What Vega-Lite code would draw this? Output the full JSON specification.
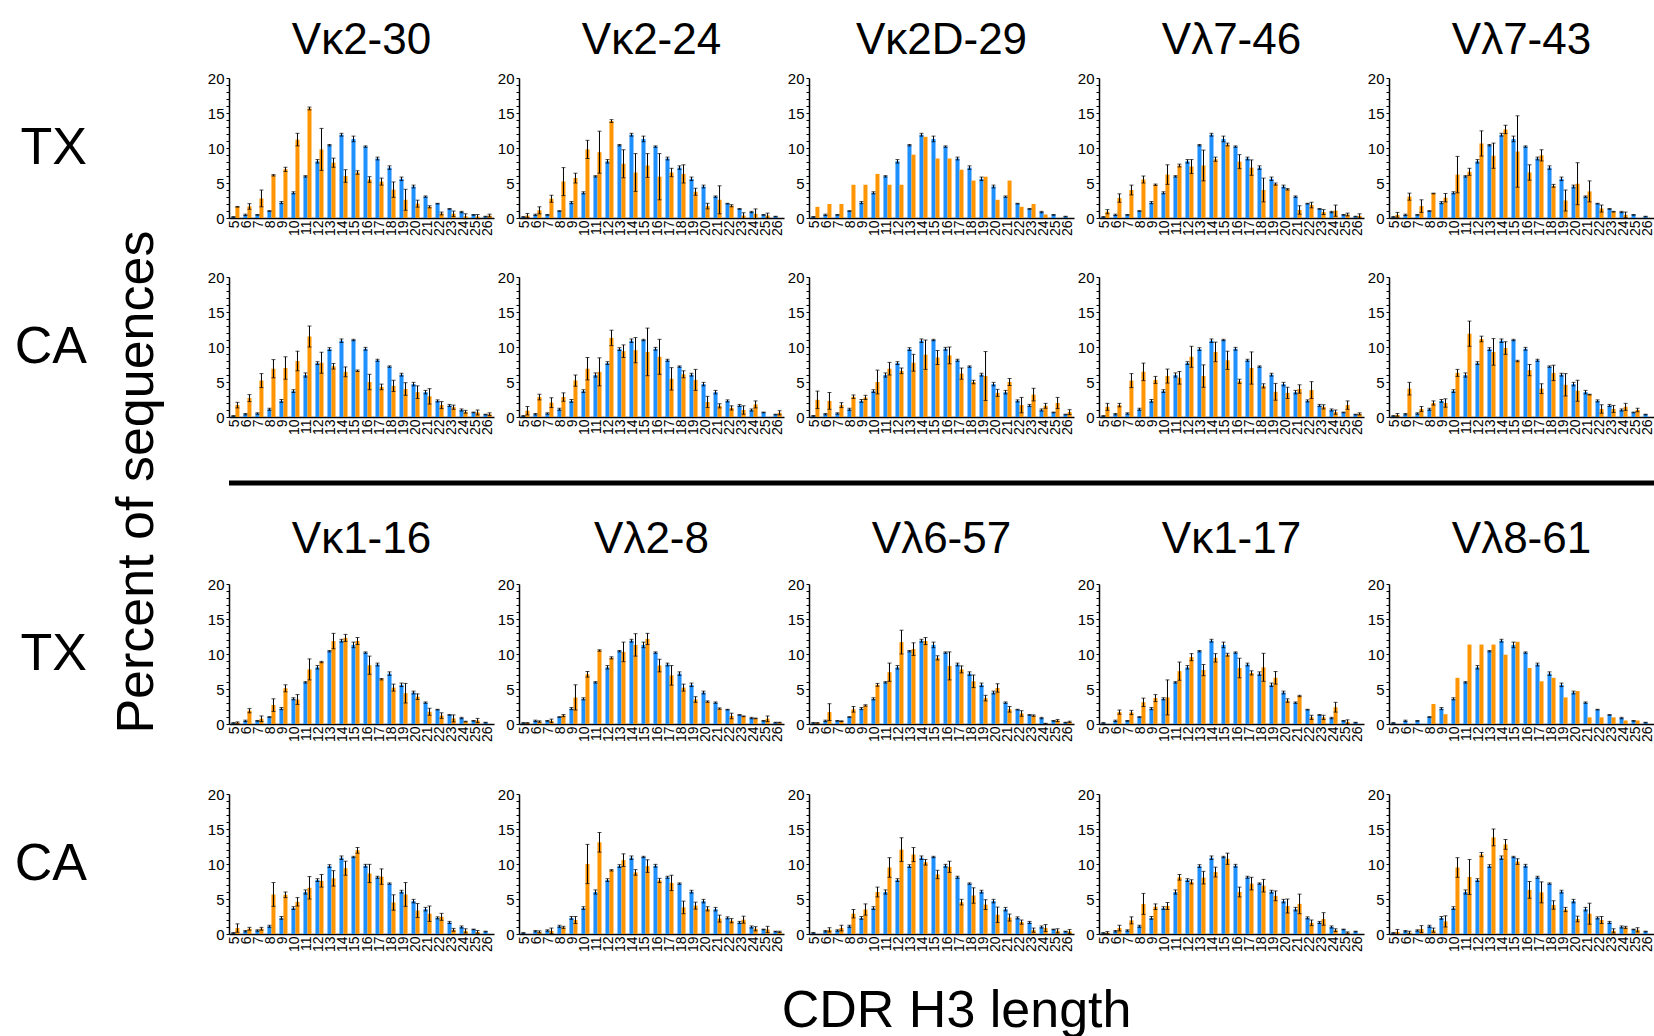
{
"$schema":"https://vega.github.io/schema/vega-lite/v6.json",
"padding":{"left":14,"top":19,"right":0,"bottom":0},
"background":"white",
"config":{"font":"Liberation Sans","view":{"stroke":null},
 "header":{"labelFont":"Liberation Sans","labelColor":"black"},
 "axis":{"labelFont":"Liberation Sans","labelColor":"black","domainColor":"black","tickColor":"black","grid":false,"title":null}},
"datasets":{"d":[
{"g":"Vκ2-30","c":"TX","s":"b","x":5,"v":0.15,"e":0.05},{"g":"Vκ2-30","c":"TX","s":"b","x":6,"v":0.45,"e":0.1},{"g":"Vκ2-30","c":"TX","s":"b","x":7,"v":0.45,"e":0.05},{"g":"Vκ2-30","c":"TX","s":"b","x":8,"v":1.0,"e":0.05},{"g":"Vκ2-30","c":"TX","s":"b","x":9,"v":2.2,"e":0.15},{"g":"Vκ2-30","c":"TX","s":"b","x":10,"v":3.6,"e":0.15},{"g":"Vκ2-30","c":"TX","s":"b","x":11,"v":5.95,"e":0.1},{"g":"Vκ2-30","c":"TX","s":"b","x":12,"v":8.1,"e":0.25},{"g":"Vκ2-30","c":"TX","s":"b","x":13,"v":10.4,"e":0.1},{"g":"Vκ2-30","c":"TX","s":"b","x":14,"v":11.9,"e":0.2},{"g":"Vκ2-30","c":"TX","s":"b","x":15,"v":11.3,"e":0.4},{"g":"Vκ2-30","c":"TX","s":"b","x":16,"v":10.2,"e":0.1},{"g":"Vκ2-30","c":"TX","s":"b","x":17,"v":8.5,"e":0.2},{"g":"Vκ2-30","c":"TX","s":"b","x":18,"v":7.2,"e":0.25},{"g":"Vκ2-30","c":"TX","s":"b","x":19,"v":5.6,"e":0.25},{"g":"Vκ2-30","c":"TX","s":"b","x":20,"v":4.5,"e":0.2},{"g":"Vκ2-30","c":"TX","s":"b","x":21,"v":3.05,"e":0.1},{"g":"Vκ2-30","c":"TX","s":"b","x":22,"v":2.05,"e":0.05},{"g":"Vκ2-30","c":"TX","s":"b","x":23,"v":1.3,"e":0.05},{"g":"Vκ2-30","c":"TX","s":"b","x":24,"v":0.85,"e":0.1},{"g":"Vκ2-30","c":"TX","s":"b","x":25,"v":0.45,"e":0.05},{"g":"Vκ2-30","c":"TX","s":"b","x":26,"v":0.2,"e":0.05},
{"g":"Vκ2-30","c":"TX","s":"o","x":5,"v":1.6,"e":0.05},{"g":"Vκ2-30","c":"TX","s":"o","x":6,"v":1.65,"e":0.4},{"g":"Vκ2-30","c":"TX","s":"o","x":7,"v":2.8,"e":1.2},{"g":"Vκ2-30","c":"TX","s":"o","x":8,"v":6.1,"e":0.1},{"g":"Vκ2-30","c":"TX","s":"o","x":9,"v":6.95,"e":0.3},{"g":"Vκ2-30","c":"TX","s":"o","x":10,"v":11.2,"e":0.9},{"g":"Vκ2-30","c":"TX","s":"o","x":11,"v":15.65,"e":0.2},{"g":"Vκ2-30","c":"TX","s":"o","x":12,"v":9.8,"e":3.0},{"g":"Vκ2-30","c":"TX","s":"o","x":13,"v":7.9,"e":0.65},{"g":"Vκ2-30","c":"TX","s":"o","x":14,"v":6.0,"e":0.9},{"g":"Vκ2-30","c":"TX","s":"o","x":15,"v":6.5,"e":0.25},{"g":"Vκ2-30","c":"TX","s":"o","x":16,"v":5.5,"e":0.4},{"g":"Vκ2-30","c":"TX","s":"o","x":17,"v":5.2,"e":0.5},{"g":"Vκ2-30","c":"TX","s":"o","x":18,"v":4.05,"e":1.1},{"g":"Vκ2-30","c":"TX","s":"o","x":19,"v":2.6,"e":1.5},{"g":"Vκ2-30","c":"TX","s":"o","x":20,"v":2.05,"e":0.5},{"g":"Vκ2-30","c":"TX","s":"o","x":21,"v":1.6,"e":0.15},{"g":"Vκ2-30","c":"TX","s":"o","x":22,"v":0.65,"e":0.2},{"g":"Vκ2-30","c":"TX","s":"o","x":23,"v":0.6,"e":0.4},{"g":"Vκ2-30","c":"TX","s":"o","x":24,"v":0.25,"e":0.35},{"g":"Vκ2-30","c":"TX","s":"o","x":25,"v":0.2,"e":0.3},{"g":"Vκ2-30","c":"TX","s":"o","x":26,"v":0.35,"e":0.2},
{"g":"Vκ2-24","c":"TX","s":"b","x":5,"v":0.15,"e":0.05},{"g":"Vκ2-24","c":"TX","s":"b","x":6,"v":0.45,"e":0.1},{"g":"Vκ2-24","c":"TX","s":"b","x":7,"v":0.45,"e":0.05},{"g":"Vκ2-24","c":"TX","s":"b","x":8,"v":1.0,"e":0.05},{"g":"Vκ2-24","c":"TX","s":"b","x":9,"v":2.2,"e":0.15},{"g":"Vκ2-24","c":"TX","s":"b","x":10,"v":3.6,"e":0.15},{"g":"Vκ2-24","c":"TX","s":"b","x":11,"v":5.95,"e":0.1},{"g":"Vκ2-24","c":"TX","s":"b","x":12,"v":8.1,"e":0.25},{"g":"Vκ2-24","c":"TX","s":"b","x":13,"v":10.4,"e":0.1},{"g":"Vκ2-24","c":"TX","s":"b","x":14,"v":11.9,"e":0.2},{"g":"Vκ2-24","c":"TX","s":"b","x":15,"v":11.3,"e":0.4},{"g":"Vκ2-24","c":"TX","s":"b","x":16,"v":10.2,"e":0.1},{"g":"Vκ2-24","c":"TX","s":"b","x":17,"v":8.5,"e":0.2},{"g":"Vκ2-24","c":"TX","s":"b","x":18,"v":7.2,"e":0.25},{"g":"Vκ2-24","c":"TX","s":"b","x":19,"v":5.6,"e":0.25},{"g":"Vκ2-24","c":"TX","s":"b","x":20,"v":4.5,"e":0.2},{"g":"Vκ2-24","c":"TX","s":"b","x":21,"v":3.05,"e":0.1},{"g":"Vκ2-24","c":"TX","s":"b","x":22,"v":2.05,"e":0.05},{"g":"Vκ2-24","c":"TX","s":"b","x":23,"v":1.3,"e":0.05},{"g":"Vκ2-24","c":"TX","s":"b","x":24,"v":0.85,"e":0.1},{"g":"Vκ2-24","c":"TX","s":"b","x":25,"v":0.45,"e":0.05},{"g":"Vκ2-24","c":"TX","s":"b","x":26,"v":0.2,"e":0.05},
{"g":"Vκ2-24","c":"TX","s":"o","x":5,"v":0.35,"e":0.3},{"g":"Vκ2-24","c":"TX","s":"o","x":6,"v":1.1,"e":0.5},{"g":"Vκ2-24","c":"TX","s":"o","x":7,"v":2.75,"e":0.5},{"g":"Vκ2-24","c":"TX","s":"o","x":8,"v":5.2,"e":2.0},{"g":"Vκ2-24","c":"TX","s":"o","x":9,"v":5.7,"e":0.7},{"g":"Vκ2-24","c":"TX","s":"o","x":10,"v":9.8,"e":1.3},{"g":"Vκ2-24","c":"TX","s":"o","x":11,"v":9.4,"e":3.0},{"g":"Vκ2-24","c":"TX","s":"o","x":12,"v":13.85,"e":0.2},{"g":"Vκ2-24","c":"TX","s":"o","x":13,"v":7.75,"e":2.0},{"g":"Vκ2-24","c":"TX","s":"o","x":14,"v":6.5,"e":2.7},{"g":"Vκ2-24","c":"TX","s":"o","x":15,"v":7.5,"e":1.7},{"g":"Vκ2-24","c":"TX","s":"o","x":16,"v":5.9,"e":3.3},{"g":"Vκ2-24","c":"TX","s":"o","x":17,"v":6.5,"e":0.6},{"g":"Vκ2-24","c":"TX","s":"o","x":18,"v":6.3,"e":1.3},{"g":"Vκ2-24","c":"TX","s":"o","x":19,"v":3.75,"e":0.5},{"g":"Vκ2-24","c":"TX","s":"o","x":20,"v":1.7,"e":0.4},{"g":"Vκ2-24","c":"TX","s":"o","x":21,"v":2.6,"e":2.0},{"g":"Vκ2-24","c":"TX","s":"o","x":22,"v":1.75,"e":0.15},{"g":"Vκ2-24","c":"TX","s":"o","x":23,"v":0.35,"e":0.4},{"g":"Vκ2-24","c":"TX","s":"o","x":24,"v":0.6,"e":0.7},{"g":"Vκ2-24","c":"TX","s":"o","x":25,"v":0.35,"e":0.35},
{"g":"Vκ2D-29","c":"TX","s":"b","x":5,"v":0.15,"e":0.05},{"g":"Vκ2D-29","c":"TX","s":"b","x":6,"v":0.45,"e":0.1},{"g":"Vκ2D-29","c":"TX","s":"b","x":7,"v":0.45,"e":0.05},{"g":"Vκ2D-29","c":"TX","s":"b","x":8,"v":1.0,"e":0.05},{"g":"Vκ2D-29","c":"TX","s":"b","x":9,"v":2.2,"e":0.15},{"g":"Vκ2D-29","c":"TX","s":"b","x":10,"v":3.6,"e":0.15},{"g":"Vκ2D-29","c":"TX","s":"b","x":11,"v":5.95,"e":0.1},{"g":"Vκ2D-29","c":"TX","s":"b","x":12,"v":8.1,"e":0.25},{"g":"Vκ2D-29","c":"TX","s":"b","x":13,"v":10.4,"e":0.1},{"g":"Vκ2D-29","c":"TX","s":"b","x":14,"v":11.9,"e":0.2},{"g":"Vκ2D-29","c":"TX","s":"b","x":15,"v":11.3,"e":0.4},{"g":"Vκ2D-29","c":"TX","s":"b","x":16,"v":10.2,"e":0.1},{"g":"Vκ2D-29","c":"TX","s":"b","x":17,"v":8.5,"e":0.2},{"g":"Vκ2D-29","c":"TX","s":"b","x":18,"v":7.2,"e":0.25},{"g":"Vκ2D-29","c":"TX","s":"b","x":19,"v":5.6,"e":0.25},{"g":"Vκ2D-29","c":"TX","s":"b","x":20,"v":4.5,"e":0.2},{"g":"Vκ2D-29","c":"TX","s":"b","x":21,"v":3.05,"e":0.1},{"g":"Vκ2D-29","c":"TX","s":"b","x":22,"v":2.05,"e":0.05},{"g":"Vκ2D-29","c":"TX","s":"b","x":23,"v":1.3,"e":0.05},{"g":"Vκ2D-29","c":"TX","s":"b","x":24,"v":0.85,"e":0.1},{"g":"Vκ2D-29","c":"TX","s":"b","x":25,"v":0.45,"e":0.05},{"g":"Vκ2D-29","c":"TX","s":"b","x":26,"v":0.2,"e":0.05},
{"g":"Vκ2D-29","c":"TX","s":"o","x":5,"v":1.6},{"g":"Vκ2D-29","c":"TX","s":"o","x":6,"v":2.0},{"g":"Vκ2D-29","c":"TX","s":"o","x":7,"v":2.0},{"g":"Vκ2D-29","c":"TX","s":"o","x":8,"v":4.75},{"g":"Vκ2D-29","c":"TX","s":"o","x":9,"v":4.75},{"g":"Vκ2D-29","c":"TX","s":"o","x":10,"v":6.3},{"g":"Vκ2D-29","c":"TX","s":"o","x":11,"v":4.75},{"g":"Vκ2D-29","c":"TX","s":"o","x":12,"v":4.75},{"g":"Vκ2D-29","c":"TX","s":"o","x":13,"v":9.05},{"g":"Vκ2D-29","c":"TX","s":"o","x":14,"v":11.6},{"g":"Vκ2D-29","c":"TX","s":"o","x":15,"v":8.5},{"g":"Vκ2D-29","c":"TX","s":"o","x":16,"v":8.5},{"g":"Vκ2D-29","c":"TX","s":"o","x":17,"v":6.9},{"g":"Vκ2D-29","c":"TX","s":"o","x":18,"v":5.35},{"g":"Vκ2D-29","c":"TX","s":"o","x":19,"v":5.9},{"g":"Vκ2D-29","c":"TX","s":"o","x":20,"v":2.6},{"g":"Vκ2D-29","c":"TX","s":"o","x":21,"v":5.35},{"g":"Vκ2D-29","c":"TX","s":"o","x":22,"v":1.6},{"g":"Vκ2D-29","c":"TX","s":"o","x":23,"v":2.0},{"g":"Vκ2D-29","c":"TX","s":"o","x":24,"v":0.5},
{"g":"Vλ7-46","c":"TX","s":"b","x":5,"v":0.15,"e":0.05},{"g":"Vλ7-46","c":"TX","s":"b","x":6,"v":0.45,"e":0.1},{"g":"Vλ7-46","c":"TX","s":"b","x":7,"v":0.45,"e":0.05},{"g":"Vλ7-46","c":"TX","s":"b","x":8,"v":1.0,"e":0.05},{"g":"Vλ7-46","c":"TX","s":"b","x":9,"v":2.2,"e":0.15},{"g":"Vλ7-46","c":"TX","s":"b","x":10,"v":3.6,"e":0.15},{"g":"Vλ7-46","c":"TX","s":"b","x":11,"v":5.95,"e":0.1},{"g":"Vλ7-46","c":"TX","s":"b","x":12,"v":8.1,"e":0.25},{"g":"Vλ7-46","c":"TX","s":"b","x":13,"v":10.4,"e":0.1},{"g":"Vλ7-46","c":"TX","s":"b","x":14,"v":11.9,"e":0.2},{"g":"Vλ7-46","c":"TX","s":"b","x":15,"v":11.3,"e":0.4},{"g":"Vλ7-46","c":"TX","s":"b","x":16,"v":10.2,"e":0.1},{"g":"Vλ7-46","c":"TX","s":"b","x":17,"v":8.5,"e":0.2},{"g":"Vλ7-46","c":"TX","s":"b","x":18,"v":7.2,"e":0.25},{"g":"Vλ7-46","c":"TX","s":"b","x":19,"v":5.6,"e":0.25},{"g":"Vλ7-46","c":"TX","s":"b","x":20,"v":4.5,"e":0.2},{"g":"Vλ7-46","c":"TX","s":"b","x":21,"v":3.05,"e":0.1},{"g":"Vλ7-46","c":"TX","s":"b","x":22,"v":2.05,"e":0.05},{"g":"Vλ7-46","c":"TX","s":"b","x":23,"v":1.3,"e":0.05},{"g":"Vλ7-46","c":"TX","s":"b","x":24,"v":0.85,"e":0.1},{"g":"Vλ7-46","c":"TX","s":"b","x":25,"v":0.45,"e":0.05},{"g":"Vλ7-46","c":"TX","s":"b","x":26,"v":0.2,"e":0.05},
{"g":"Vλ7-46","c":"TX","s":"o","x":5,"v":0.9,"e":0.3},{"g":"Vλ7-46","c":"TX","s":"o","x":6,"v":2.85,"e":0.6},{"g":"Vλ7-46","c":"TX","s":"o","x":7,"v":4.0,"e":0.7},{"g":"Vλ7-46","c":"TX","s":"o","x":8,"v":5.5,"e":0.5},{"g":"Vλ7-46","c":"TX","s":"o","x":9,"v":4.75,"e":0.1},{"g":"Vλ7-46","c":"TX","s":"o","x":10,"v":6.2,"e":1.4},{"g":"Vλ7-46","c":"TX","s":"o","x":11,"v":7.5,"e":0.2},{"g":"Vλ7-46","c":"TX","s":"o","x":12,"v":7.35,"e":1.0},{"g":"Vλ7-46","c":"TX","s":"o","x":13,"v":7.5,"e":2.2},{"g":"Vλ7-46","c":"TX","s":"o","x":14,"v":8.4,"e":0.3},{"g":"Vλ7-46","c":"TX","s":"o","x":15,"v":10.5,"e":0.2},{"g":"Vλ7-46","c":"TX","s":"o","x":16,"v":8.05,"e":1.0},{"g":"Vλ7-46","c":"TX","s":"o","x":17,"v":7.2,"e":1.1},{"g":"Vλ7-46","c":"TX","s":"o","x":18,"v":4.0,"e":1.7},{"g":"Vλ7-46","c":"TX","s":"o","x":19,"v":4.85,"e":0.15},{"g":"Vλ7-46","c":"TX","s":"o","x":20,"v":4.1,"e":0.1},{"g":"Vλ7-46","c":"TX","s":"o","x":21,"v":1.15,"e":0.6},{"g":"Vλ7-46","c":"TX","s":"o","x":22,"v":1.85,"e":0.4},{"g":"Vλ7-46","c":"TX","s":"o","x":23,"v":0.85,"e":0.35},{"g":"Vλ7-46","c":"TX","s":"o","x":24,"v":1.05,"e":0.8},{"g":"Vλ7-46","c":"TX","s":"o","x":25,"v":0.5,"e":0.2},{"g":"Vλ7-46","c":"TX","s":"o","x":26,"v":0.3,"e":0.3},
{"g":"Vλ7-43","c":"TX","s":"b","x":5,"v":0.15,"e":0.05},{"g":"Vλ7-43","c":"TX","s":"b","x":6,"v":0.45,"e":0.1},{"g":"Vλ7-43","c":"TX","s":"b","x":7,"v":0.45,"e":0.05},{"g":"Vλ7-43","c":"TX","s":"b","x":8,"v":1.0,"e":0.05},{"g":"Vλ7-43","c":"TX","s":"b","x":9,"v":2.2,"e":0.15},{"g":"Vλ7-43","c":"TX","s":"b","x":10,"v":3.6,"e":0.15},{"g":"Vλ7-43","c":"TX","s":"b","x":11,"v":5.95,"e":0.1},{"g":"Vλ7-43","c":"TX","s":"b","x":12,"v":8.1,"e":0.25},{"g":"Vλ7-43","c":"TX","s":"b","x":13,"v":10.4,"e":0.1},{"g":"Vλ7-43","c":"TX","s":"b","x":14,"v":11.9,"e":0.2},{"g":"Vλ7-43","c":"TX","s":"b","x":15,"v":11.3,"e":0.4},{"g":"Vλ7-43","c":"TX","s":"b","x":16,"v":10.2,"e":0.1},{"g":"Vλ7-43","c":"TX","s":"b","x":17,"v":8.5,"e":0.2},{"g":"Vλ7-43","c":"TX","s":"b","x":18,"v":7.2,"e":0.25},{"g":"Vλ7-43","c":"TX","s":"b","x":19,"v":5.6,"e":0.25},{"g":"Vλ7-43","c":"TX","s":"b","x":20,"v":4.5,"e":0.2},{"g":"Vλ7-43","c":"TX","s":"b","x":21,"v":3.05,"e":0.1},{"g":"Vλ7-43","c":"TX","s":"b","x":22,"v":2.05,"e":0.05},{"g":"Vλ7-43","c":"TX","s":"b","x":23,"v":1.3,"e":0.05},{"g":"Vλ7-43","c":"TX","s":"b","x":24,"v":0.85,"e":0.1},{"g":"Vλ7-43","c":"TX","s":"b","x":25,"v":0.45,"e":0.05},{"g":"Vλ7-43","c":"TX","s":"b","x":26,"v":0.2,"e":0.05},
{"g":"Vλ7-43","c":"TX","s":"o","x":5,"v":0.45,"e":0.35},{"g":"Vλ7-43","c":"TX","s":"o","x":6,"v":3.05,"e":0.5},{"g":"Vλ7-43","c":"TX","s":"o","x":7,"v":1.7,"e":0.9},{"g":"Vλ7-43","c":"TX","s":"o","x":8,"v":3.5,"e":0.05},{"g":"Vλ7-43","c":"TX","s":"o","x":9,"v":2.9,"e":0.6},{"g":"Vλ7-43","c":"TX","s":"o","x":10,"v":6.2,"e":2.6},{"g":"Vλ7-43","c":"TX","s":"o","x":11,"v":6.6,"e":0.5},{"g":"Vλ7-43","c":"TX","s":"o","x":12,"v":10.65,"e":1.8},{"g":"Vλ7-43","c":"TX","s":"o","x":13,"v":8.9,"e":1.8},{"g":"Vλ7-43","c":"TX","s":"o","x":14,"v":12.65,"e":0.6},{"g":"Vλ7-43","c":"TX","s":"o","x":15,"v":9.5,"e":5.1},{"g":"Vλ7-43","c":"TX","s":"o","x":16,"v":6.5,"e":1.1},{"g":"Vλ7-43","c":"TX","s":"o","x":17,"v":8.95,"e":0.8},{"g":"Vλ7-43","c":"TX","s":"o","x":18,"v":4.6,"e":0.2},{"g":"Vλ7-43","c":"TX","s":"o","x":19,"v":2.5,"e":1.5},{"g":"Vλ7-43","c":"TX","s":"o","x":20,"v":4.9,"e":3.0},{"g":"Vλ7-43","c":"TX","s":"o","x":21,"v":3.8,"e":1.5},{"g":"Vλ7-43","c":"TX","s":"o","x":22,"v":1.35,"e":0.5},{"g":"Vλ7-43","c":"TX","s":"o","x":23,"v":0.9,"e":0.05},{"g":"Vλ7-43","c":"TX","s":"o","x":24,"v":0.45,"e":0.4},
{"g":"Vκ2-30","c":"CA","s":"b","x":5,"v":0.15,"e":0.05},{"g":"Vκ2-30","c":"CA","s":"b","x":6,"v":0.4,"e":0.1},{"g":"Vκ2-30","c":"CA","s":"b","x":7,"v":0.5,"e":0.1},{"g":"Vκ2-30","c":"CA","s":"b","x":8,"v":1.1,"e":0.15},{"g":"Vκ2-30","c":"CA","s":"b","x":9,"v":2.3,"e":0.2},{"g":"Vκ2-30","c":"CA","s":"b","x":10,"v":3.7,"e":0.2},{"g":"Vκ2-30","c":"CA","s":"b","x":11,"v":6.0,"e":0.3},{"g":"Vκ2-30","c":"CA","s":"b","x":12,"v":7.7,"e":0.2},{"g":"Vκ2-30","c":"CA","s":"b","x":13,"v":9.7,"e":0.2},{"g":"Vκ2-30","c":"CA","s":"b","x":14,"v":10.9,"e":0.25},{"g":"Vκ2-30","c":"CA","s":"b","x":15,"v":11.0,"e":0.1},{"g":"Vκ2-30","c":"CA","s":"b","x":16,"v":9.75,"e":0.2},{"g":"Vκ2-30","c":"CA","s":"b","x":17,"v":8.1,"e":0.15},{"g":"Vκ2-30","c":"CA","s":"b","x":18,"v":7.2,"e":0.1},{"g":"Vκ2-30","c":"CA","s":"b","x":19,"v":6.05,"e":0.2},{"g":"Vκ2-30","c":"CA","s":"b","x":20,"v":4.7,"e":0.25},{"g":"Vκ2-30","c":"CA","s":"b","x":21,"v":3.55,"e":0.25},{"g":"Vκ2-30","c":"CA","s":"b","x":22,"v":2.3,"e":0.15},{"g":"Vκ2-30","c":"CA","s":"b","x":23,"v":1.65,"e":0.15},{"g":"Vκ2-30","c":"CA","s":"b","x":24,"v":1.0,"e":0.15},{"g":"Vκ2-30","c":"CA","s":"b","x":25,"v":0.65,"e":0.05},{"g":"Vκ2-30","c":"CA","s":"b","x":26,"v":0.35,"e":0.05},
{"g":"Vκ2-30","c":"CA","s":"o","x":5,"v":1.7,"e":0.4},{"g":"Vκ2-30","c":"CA","s":"o","x":6,"v":2.7,"e":0.5},{"g":"Vκ2-30","c":"CA","s":"o","x":7,"v":5.2,"e":1.0},{"g":"Vκ2-30","c":"CA","s":"o","x":8,"v":6.9,"e":1.3},{"g":"Vκ2-30","c":"CA","s":"o","x":9,"v":7.0,"e":1.6},{"g":"Vκ2-30","c":"CA","s":"o","x":10,"v":8.0,"e":1.4},{"g":"Vκ2-30","c":"CA","s":"o","x":11,"v":11.5,"e":1.5},{"g":"Vκ2-30","c":"CA","s":"o","x":12,"v":7.75,"e":1.5},{"g":"Vκ2-30","c":"CA","s":"o","x":13,"v":7.25,"e":0.4},{"g":"Vκ2-30","c":"CA","s":"o","x":14,"v":6.45,"e":0.7},{"g":"Vκ2-30","c":"CA","s":"o","x":15,"v":6.6,"e":0.1},{"g":"Vκ2-30","c":"CA","s":"o","x":16,"v":5.0,"e":1.1},{"g":"Vκ2-30","c":"CA","s":"o","x":17,"v":4.3,"e":0.4},{"g":"Vκ2-30","c":"CA","s":"o","x":18,"v":4.45,"e":0.8},{"g":"Vκ2-30","c":"CA","s":"o","x":19,"v":4.0,"e":0.9},{"g":"Vκ2-30","c":"CA","s":"o","x":20,"v":3.55,"e":0.9},{"g":"Vκ2-30","c":"CA","s":"o","x":21,"v":2.95,"e":1.1},{"g":"Vκ2-30","c":"CA","s":"o","x":22,"v":1.7,"e":0.5},{"g":"Vκ2-30","c":"CA","s":"o","x":23,"v":1.4,"e":0.3},{"g":"Vκ2-30","c":"CA","s":"o","x":24,"v":0.75,"e":0.2},{"g":"Vκ2-30","c":"CA","s":"o","x":25,"v":0.65,"e":0.35},{"g":"Vκ2-30","c":"CA","s":"o","x":26,"v":0.4,"e":0.2},
{"g":"Vκ2-24","c":"CA","s":"b","x":5,"v":0.15,"e":0.05},{"g":"Vκ2-24","c":"CA","s":"b","x":6,"v":0.4,"e":0.1},{"g":"Vκ2-24","c":"CA","s":"b","x":7,"v":0.5,"e":0.1},{"g":"Vκ2-24","c":"CA","s":"b","x":8,"v":1.1,"e":0.15},{"g":"Vκ2-24","c":"CA","s":"b","x":9,"v":2.3,"e":0.2},{"g":"Vκ2-24","c":"CA","s":"b","x":10,"v":3.7,"e":0.2},{"g":"Vκ2-24","c":"CA","s":"b","x":11,"v":6.0,"e":0.3},{"g":"Vκ2-24","c":"CA","s":"b","x":12,"v":7.7,"e":0.2},{"g":"Vκ2-24","c":"CA","s":"b","x":13,"v":9.7,"e":0.2},{"g":"Vκ2-24","c":"CA","s":"b","x":14,"v":10.9,"e":0.25},{"g":"Vκ2-24","c":"CA","s":"b","x":15,"v":11.0,"e":0.1},{"g":"Vκ2-24","c":"CA","s":"b","x":16,"v":9.75,"e":0.2},{"g":"Vκ2-24","c":"CA","s":"b","x":17,"v":8.1,"e":0.15},{"g":"Vκ2-24","c":"CA","s":"b","x":18,"v":7.2,"e":0.1},{"g":"Vκ2-24","c":"CA","s":"b","x":19,"v":6.05,"e":0.2},{"g":"Vκ2-24","c":"CA","s":"b","x":20,"v":4.7,"e":0.25},{"g":"Vκ2-24","c":"CA","s":"b","x":21,"v":3.55,"e":0.25},{"g":"Vκ2-24","c":"CA","s":"b","x":22,"v":2.3,"e":0.15},{"g":"Vκ2-24","c":"CA","s":"b","x":23,"v":1.65,"e":0.15},{"g":"Vκ2-24","c":"CA","s":"b","x":24,"v":1.0,"e":0.15},{"g":"Vκ2-24","c":"CA","s":"b","x":25,"v":0.65,"e":0.05},{"g":"Vκ2-24","c":"CA","s":"b","x":26,"v":0.35,"e":0.05},
{"g":"Vκ2-24","c":"CA","s":"o","x":5,"v":0.9,"e":0.6},{"g":"Vκ2-24","c":"CA","s":"o","x":6,"v":2.85,"e":0.4},{"g":"Vκ2-24","c":"CA","s":"o","x":7,"v":2.05,"e":0.7},{"g":"Vκ2-24","c":"CA","s":"o","x":8,"v":2.85,"e":0.6},{"g":"Vκ2-24","c":"CA","s":"o","x":9,"v":5.2,"e":0.8},{"g":"Vκ2-24","c":"CA","s":"o","x":10,"v":6.9,"e":1.6},{"g":"Vκ2-24","c":"CA","s":"o","x":11,"v":6.45,"e":2.0},{"g":"Vκ2-24","c":"CA","s":"o","x":12,"v":11.3,"e":1.1},{"g":"Vκ2-24","c":"CA","s":"o","x":13,"v":9.4,"e":0.9},{"g":"Vκ2-24","c":"CA","s":"o","x":14,"v":9.55,"e":1.8},{"g":"Vκ2-24","c":"CA","s":"o","x":15,"v":9.3,"e":3.4},{"g":"Vκ2-24","c":"CA","s":"o","x":16,"v":8.6,"e":2.5},{"g":"Vκ2-24","c":"CA","s":"o","x":17,"v":5.45,"e":1.6},{"g":"Vκ2-24","c":"CA","s":"o","x":18,"v":6.1,"e":0.5},{"g":"Vκ2-24","c":"CA","s":"o","x":19,"v":5.3,"e":1.5},{"g":"Vκ2-24","c":"CA","s":"o","x":20,"v":2.15,"e":0.8},{"g":"Vκ2-24","c":"CA","s":"o","x":21,"v":1.6,"e":0.3},{"g":"Vκ2-24","c":"CA","s":"o","x":22,"v":1.3,"e":0.3},{"g":"Vκ2-24","c":"CA","s":"o","x":23,"v":1.0,"e":0.6},{"g":"Vκ2-24","c":"CA","s":"o","x":24,"v":1.8,"e":0.5},{"g":"Vκ2-24","c":"CA","s":"o","x":26,"v":0.6,"e":0.3},
{"g":"Vκ2D-29","c":"CA","s":"b","x":5,"v":0.15,"e":0.05},{"g":"Vκ2D-29","c":"CA","s":"b","x":6,"v":0.4,"e":0.1},{"g":"Vκ2D-29","c":"CA","s":"b","x":7,"v":0.5,"e":0.1},{"g":"Vκ2D-29","c":"CA","s":"b","x":8,"v":1.1,"e":0.15},{"g":"Vκ2D-29","c":"CA","s":"b","x":9,"v":2.3,"e":0.2},{"g":"Vκ2D-29","c":"CA","s":"b","x":10,"v":3.7,"e":0.2},{"g":"Vκ2D-29","c":"CA","s":"b","x":11,"v":6.0,"e":0.3},{"g":"Vκ2D-29","c":"CA","s":"b","x":12,"v":7.7,"e":0.2},{"g":"Vκ2D-29","c":"CA","s":"b","x":13,"v":9.7,"e":0.2},{"g":"Vκ2D-29","c":"CA","s":"b","x":14,"v":10.9,"e":0.25},{"g":"Vκ2D-29","c":"CA","s":"b","x":15,"v":11.0,"e":0.1},{"g":"Vκ2D-29","c":"CA","s":"b","x":16,"v":9.75,"e":0.2},{"g":"Vκ2D-29","c":"CA","s":"b","x":17,"v":8.1,"e":0.15},{"g":"Vκ2D-29","c":"CA","s":"b","x":18,"v":7.2,"e":0.1},{"g":"Vκ2D-29","c":"CA","s":"b","x":19,"v":6.05,"e":0.2},{"g":"Vκ2D-29","c":"CA","s":"b","x":20,"v":4.7,"e":0.25},{"g":"Vκ2D-29","c":"CA","s":"b","x":21,"v":3.55,"e":0.25},{"g":"Vκ2D-29","c":"CA","s":"b","x":22,"v":2.3,"e":0.15},{"g":"Vκ2D-29","c":"CA","s":"b","x":23,"v":1.65,"e":0.15},{"g":"Vκ2D-29","c":"CA","s":"b","x":24,"v":1.0,"e":0.15},{"g":"Vκ2D-29","c":"CA","s":"b","x":25,"v":0.65,"e":0.05},{"g":"Vκ2D-29","c":"CA","s":"b","x":26,"v":0.35,"e":0.05},
{"g":"Vκ2D-29","c":"CA","s":"o","x":5,"v":2.45,"e":1.25},{"g":"Vκ2D-29","c":"CA","s":"o","x":6,"v":2.3,"e":1.2},{"g":"Vκ2D-29","c":"CA","s":"o","x":7,"v":1.7,"e":0.35},{"g":"Vκ2D-29","c":"CA","s":"o","x":8,"v":2.9,"e":0.25},{"g":"Vκ2D-29","c":"CA","s":"o","x":9,"v":2.8,"e":0.3},{"g":"Vκ2D-29","c":"CA","s":"o","x":10,"v":5.0,"e":1.7},{"g":"Vκ2D-29","c":"CA","s":"o","x":11,"v":6.9,"e":0.9},{"g":"Vκ2D-29","c":"CA","s":"o","x":12,"v":6.6,"e":0.4},{"g":"Vκ2D-29","c":"CA","s":"o","x":13,"v":7.75,"e":1.2},{"g":"Vκ2D-29","c":"CA","s":"o","x":14,"v":8.9,"e":2.1},{"g":"Vκ2D-29","c":"CA","s":"o","x":15,"v":8.5,"e":1.0},{"g":"Vκ2D-29","c":"CA","s":"o","x":16,"v":8.8,"e":1.2},{"g":"Vκ2D-29","c":"CA","s":"o","x":17,"v":6.2,"e":0.8},{"g":"Vκ2D-29","c":"CA","s":"o","x":18,"v":5.0,"e":0.25},{"g":"Vκ2D-29","c":"CA","s":"o","x":19,"v":5.85,"e":3.5},{"g":"Vκ2D-29","c":"CA","s":"o","x":20,"v":3.45,"e":0.5},{"g":"Vκ2D-29","c":"CA","s":"o","x":21,"v":5.0,"e":0.5},{"g":"Vκ2D-29","c":"CA","s":"o","x":22,"v":1.7,"e":1.1},{"g":"Vκ2D-29","c":"CA","s":"o","x":23,"v":3.2,"e":0.9},{"g":"Vκ2D-29","c":"CA","s":"o","x":24,"v":1.6,"e":0.35},{"g":"Vκ2D-29","c":"CA","s":"o","x":25,"v":2.0,"e":0.8},{"g":"Vκ2D-29","c":"CA","s":"o","x":26,"v":0.7,"e":0.35},
{"g":"Vλ7-46","c":"CA","s":"b","x":5,"v":0.15,"e":0.05},{"g":"Vλ7-46","c":"CA","s":"b","x":6,"v":0.4,"e":0.1},{"g":"Vλ7-46","c":"CA","s":"b","x":7,"v":0.5,"e":0.1},{"g":"Vλ7-46","c":"CA","s":"b","x":8,"v":1.1,"e":0.15},{"g":"Vλ7-46","c":"CA","s":"b","x":9,"v":2.3,"e":0.2},{"g":"Vλ7-46","c":"CA","s":"b","x":10,"v":3.7,"e":0.2},{"g":"Vλ7-46","c":"CA","s":"b","x":11,"v":6.0,"e":0.3},{"g":"Vλ7-46","c":"CA","s":"b","x":12,"v":7.7,"e":0.2},{"g":"Vλ7-46","c":"CA","s":"b","x":13,"v":9.7,"e":0.2},{"g":"Vλ7-46","c":"CA","s":"b","x":14,"v":10.9,"e":0.25},{"g":"Vλ7-46","c":"CA","s":"b","x":15,"v":11.0,"e":0.1},{"g":"Vλ7-46","c":"CA","s":"b","x":16,"v":9.75,"e":0.2},{"g":"Vλ7-46","c":"CA","s":"b","x":17,"v":8.1,"e":0.15},{"g":"Vλ7-46","c":"CA","s":"b","x":18,"v":7.2,"e":0.1},{"g":"Vλ7-46","c":"CA","s":"b","x":19,"v":6.05,"e":0.2},{"g":"Vλ7-46","c":"CA","s":"b","x":20,"v":4.7,"e":0.25},{"g":"Vλ7-46","c":"CA","s":"b","x":21,"v":3.55,"e":0.25},{"g":"Vλ7-46","c":"CA","s":"b","x":22,"v":2.3,"e":0.15},{"g":"Vλ7-46","c":"CA","s":"b","x":23,"v":1.65,"e":0.15},{"g":"Vλ7-46","c":"CA","s":"b","x":24,"v":1.0,"e":0.15},{"g":"Vλ7-46","c":"CA","s":"b","x":25,"v":0.65,"e":0.05},{"g":"Vλ7-46","c":"CA","s":"b","x":26,"v":0.35,"e":0.05},
{"g":"Vλ7-46","c":"CA","s":"o","x":5,"v":1.45,"e":0.5},{"g":"Vλ7-46","c":"CA","s":"o","x":6,"v":1.7,"e":0.25},{"g":"Vλ7-46","c":"CA","s":"o","x":7,"v":5.2,"e":1.0},{"g":"Vλ7-46","c":"CA","s":"o","x":8,"v":6.45,"e":1.25},{"g":"Vλ7-46","c":"CA","s":"o","x":9,"v":5.3,"e":0.5},{"g":"Vλ7-46","c":"CA","s":"o","x":10,"v":5.85,"e":1.0},{"g":"Vλ7-46","c":"CA","s":"o","x":11,"v":5.6,"e":0.9},{"g":"Vλ7-46","c":"CA","s":"o","x":12,"v":8.6,"e":1.5},{"g":"Vλ7-46","c":"CA","s":"o","x":13,"v":5.85,"e":1.6},{"g":"Vλ7-46","c":"CA","s":"o","x":14,"v":9.3,"e":1.4},{"g":"Vλ7-46","c":"CA","s":"o","x":15,"v":8.1,"e":1.3},{"g":"Vλ7-46","c":"CA","s":"o","x":16,"v":5.1,"e":0.3},{"g":"Vλ7-46","c":"CA","s":"o","x":17,"v":7.0,"e":2.3},{"g":"Vλ7-46","c":"CA","s":"o","x":18,"v":4.45,"e":0.3},{"g":"Vλ7-46","c":"CA","s":"o","x":19,"v":3.6,"e":1.2},{"g":"Vλ7-46","c":"CA","s":"o","x":20,"v":3.45,"e":0.8},{"g":"Vλ7-46","c":"CA","s":"o","x":21,"v":4.0,"e":0.6},{"g":"Vλ7-46","c":"CA","s":"o","x":22,"v":3.85,"e":1.2},{"g":"Vλ7-46","c":"CA","s":"o","x":23,"v":1.45,"e":0.3},{"g":"Vλ7-46","c":"CA","s":"o","x":24,"v":0.7,"e":0.3},{"g":"Vλ7-46","c":"CA","s":"o","x":25,"v":1.7,"e":0.6},{"g":"Vλ7-46","c":"CA","s":"o","x":26,"v":0.45,"e":0.15},
{"g":"Vλ7-43","c":"CA","s":"b","x":5,"v":0.15,"e":0.05},{"g":"Vλ7-43","c":"CA","s":"b","x":6,"v":0.4,"e":0.1},{"g":"Vλ7-43","c":"CA","s":"b","x":7,"v":0.5,"e":0.1},{"g":"Vλ7-43","c":"CA","s":"b","x":8,"v":1.1,"e":0.15},{"g":"Vλ7-43","c":"CA","s":"b","x":9,"v":2.3,"e":0.2},{"g":"Vλ7-43","c":"CA","s":"b","x":10,"v":3.7,"e":0.2},{"g":"Vλ7-43","c":"CA","s":"b","x":11,"v":6.0,"e":0.3},{"g":"Vλ7-43","c":"CA","s":"b","x":12,"v":7.7,"e":0.2},{"g":"Vλ7-43","c":"CA","s":"b","x":13,"v":9.7,"e":0.2},{"g":"Vλ7-43","c":"CA","s":"b","x":14,"v":10.9,"e":0.25},{"g":"Vλ7-43","c":"CA","s":"b","x":15,"v":11.0,"e":0.1},{"g":"Vλ7-43","c":"CA","s":"b","x":16,"v":9.75,"e":0.2},{"g":"Vλ7-43","c":"CA","s":"b","x":17,"v":8.1,"e":0.15},{"g":"Vλ7-43","c":"CA","s":"b","x":18,"v":7.2,"e":0.1},{"g":"Vλ7-43","c":"CA","s":"b","x":19,"v":6.05,"e":0.2},{"g":"Vλ7-43","c":"CA","s":"b","x":20,"v":4.7,"e":0.25},{"g":"Vλ7-43","c":"CA","s":"b","x":21,"v":3.55,"e":0.25},{"g":"Vλ7-43","c":"CA","s":"b","x":22,"v":2.3,"e":0.15},{"g":"Vλ7-43","c":"CA","s":"b","x":23,"v":1.65,"e":0.15},{"g":"Vλ7-43","c":"CA","s":"b","x":24,"v":1.0,"e":0.15},{"g":"Vλ7-43","c":"CA","s":"b","x":25,"v":0.65,"e":0.05},{"g":"Vλ7-43","c":"CA","s":"b","x":26,"v":0.35,"e":0.05},
{"g":"Vλ7-43","c":"CA","s":"o","x":5,"v":0.3,"e":0.2},{"g":"Vλ7-43","c":"CA","s":"o","x":6,"v":4.05,"e":0.9},{"g":"Vλ7-43","c":"CA","s":"o","x":7,"v":1.15,"e":0.35},{"g":"Vλ7-43","c":"CA","s":"o","x":8,"v":2.0,"e":0.3},{"g":"Vλ7-43","c":"CA","s":"o","x":9,"v":2.0,"e":0.6},{"g":"Vλ7-43","c":"CA","s":"o","x":10,"v":6.3,"e":0.5},{"g":"Vλ7-43","c":"CA","s":"o","x":11,"v":11.9,"e":1.8},{"g":"Vλ7-43","c":"CA","s":"o","x":12,"v":11.15,"e":0.4},{"g":"Vλ7-43","c":"CA","s":"o","x":13,"v":9.3,"e":1.9},{"g":"Vλ7-43","c":"CA","s":"o","x":14,"v":9.85,"e":0.9},{"g":"Vλ7-43","c":"CA","s":"o","x":15,"v":8.0,"e":0.1},{"g":"Vλ7-43","c":"CA","s":"o","x":16,"v":6.7,"e":0.8},{"g":"Vλ7-43","c":"CA","s":"o","x":17,"v":4.05,"e":0.7},{"g":"Vλ7-43","c":"CA","s":"o","x":18,"v":6.3,"e":1.1},{"g":"Vλ7-43","c":"CA","s":"o","x":19,"v":4.6,"e":1.6},{"g":"Vλ7-43","c":"CA","s":"o","x":20,"v":3.75,"e":1.5},{"g":"Vλ7-43","c":"CA","s":"o","x":21,"v":3.2,"e":0.05},{"g":"Vλ7-43","c":"CA","s":"o","x":22,"v":1.15,"e":0.6},{"g":"Vλ7-43","c":"CA","s":"o","x":23,"v":1.15,"e":0.5},{"g":"Vλ7-43","c":"CA","s":"o","x":24,"v":1.45,"e":0.5},{"g":"Vλ7-43","c":"CA","s":"o","x":25,"v":1.0,"e":0.25},
{"g":"Vκ1-16","c":"TX","s":"b","x":5,"v":0.15,"e":0.05},{"g":"Vκ1-16","c":"TX","s":"b","x":6,"v":0.45,"e":0.1},{"g":"Vκ1-16","c":"TX","s":"b","x":7,"v":0.45,"e":0.05},{"g":"Vκ1-16","c":"TX","s":"b","x":8,"v":1.0,"e":0.05},{"g":"Vκ1-16","c":"TX","s":"b","x":9,"v":2.2,"e":0.15},{"g":"Vκ1-16","c":"TX","s":"b","x":10,"v":3.6,"e":0.15},{"g":"Vκ1-16","c":"TX","s":"b","x":11,"v":5.95,"e":0.1},{"g":"Vκ1-16","c":"TX","s":"b","x":12,"v":8.1,"e":0.25},{"g":"Vκ1-16","c":"TX","s":"b","x":13,"v":10.4,"e":0.1},{"g":"Vκ1-16","c":"TX","s":"b","x":14,"v":11.9,"e":0.2},{"g":"Vκ1-16","c":"TX","s":"b","x":15,"v":11.3,"e":0.4},{"g":"Vκ1-16","c":"TX","s":"b","x":16,"v":10.2,"e":0.1},{"g":"Vκ1-16","c":"TX","s":"b","x":17,"v":8.5,"e":0.2},{"g":"Vκ1-16","c":"TX","s":"b","x":18,"v":7.2,"e":0.25},{"g":"Vκ1-16","c":"TX","s":"b","x":19,"v":5.6,"e":0.25},{"g":"Vκ1-16","c":"TX","s":"b","x":20,"v":4.5,"e":0.2},{"g":"Vκ1-16","c":"TX","s":"b","x":21,"v":3.05,"e":0.1},{"g":"Vκ1-16","c":"TX","s":"b","x":22,"v":2.05,"e":0.05},{"g":"Vκ1-16","c":"TX","s":"b","x":23,"v":1.3,"e":0.05},{"g":"Vκ1-16","c":"TX","s":"b","x":24,"v":0.85,"e":0.1},{"g":"Vκ1-16","c":"TX","s":"b","x":25,"v":0.45,"e":0.05},{"g":"Vκ1-16","c":"TX","s":"b","x":26,"v":0.2,"e":0.05},
{"g":"Vκ1-16","c":"TX","s":"o","x":5,"v":0.2,"e":0.1},{"g":"Vκ1-16","c":"TX","s":"o","x":6,"v":1.9,"e":0.3},{"g":"Vκ1-16","c":"TX","s":"o","x":7,"v":0.75,"e":0.4},{"g":"Vκ1-16","c":"TX","s":"o","x":8,"v":2.7,"e":0.9},{"g":"Vκ1-16","c":"TX","s":"o","x":9,"v":5.1,"e":0.5},{"g":"Vκ1-16","c":"TX","s":"o","x":10,"v":3.5,"e":0.7},{"g":"Vκ1-16","c":"TX","s":"o","x":11,"v":7.8,"e":1.5},{"g":"Vκ1-16","c":"TX","s":"o","x":12,"v":8.85,"e":0.1},{"g":"Vκ1-16","c":"TX","s":"o","x":13,"v":11.85,"e":1.1},{"g":"Vκ1-16","c":"TX","s":"o","x":14,"v":12.3,"e":0.5},{"g":"Vκ1-16","c":"TX","s":"o","x":15,"v":11.85,"e":0.5},{"g":"Vκ1-16","c":"TX","s":"o","x":16,"v":8.4,"e":1.3},{"g":"Vκ1-16","c":"TX","s":"o","x":17,"v":6.4,"e":0.1},{"g":"Vκ1-16","c":"TX","s":"o","x":18,"v":5.2,"e":0.5},{"g":"Vκ1-16","c":"TX","s":"o","x":19,"v":4.4,"e":1.4},{"g":"Vκ1-16","c":"TX","s":"o","x":20,"v":3.9,"e":0.4},{"g":"Vκ1-16","c":"TX","s":"o","x":21,"v":1.75,"e":0.5},{"g":"Vκ1-16","c":"TX","s":"o","x":22,"v":1.2,"e":0.4},{"g":"Vκ1-16","c":"TX","s":"o","x":23,"v":0.8,"e":0.5},{"g":"Vκ1-16","c":"TX","s":"o","x":24,"v":0.35,"e":0.05},{"g":"Vκ1-16","c":"TX","s":"o","x":25,"v":0.5,"e":0.3},
{"g":"Vλ2-8","c":"TX","s":"b","x":5,"v":0.15,"e":0.05},{"g":"Vλ2-8","c":"TX","s":"b","x":6,"v":0.45,"e":0.1},{"g":"Vλ2-8","c":"TX","s":"b","x":7,"v":0.45,"e":0.05},{"g":"Vλ2-8","c":"TX","s":"b","x":8,"v":1.0,"e":0.05},{"g":"Vλ2-8","c":"TX","s":"b","x":9,"v":2.2,"e":0.15},{"g":"Vλ2-8","c":"TX","s":"b","x":10,"v":3.6,"e":0.15},{"g":"Vλ2-8","c":"TX","s":"b","x":11,"v":5.95,"e":0.1},{"g":"Vλ2-8","c":"TX","s":"b","x":12,"v":8.1,"e":0.25},{"g":"Vλ2-8","c":"TX","s":"b","x":13,"v":10.4,"e":0.1},{"g":"Vλ2-8","c":"TX","s":"b","x":14,"v":11.9,"e":0.2},{"g":"Vλ2-8","c":"TX","s":"b","x":15,"v":11.3,"e":0.4},{"g":"Vλ2-8","c":"TX","s":"b","x":16,"v":10.2,"e":0.1},{"g":"Vλ2-8","c":"TX","s":"b","x":17,"v":8.5,"e":0.2},{"g":"Vλ2-8","c":"TX","s":"b","x":18,"v":7.2,"e":0.25},{"g":"Vλ2-8","c":"TX","s":"b","x":19,"v":5.6,"e":0.25},{"g":"Vλ2-8","c":"TX","s":"b","x":20,"v":4.5,"e":0.2},{"g":"Vλ2-8","c":"TX","s":"b","x":21,"v":3.05,"e":0.1},{"g":"Vλ2-8","c":"TX","s":"b","x":22,"v":2.05,"e":0.05},{"g":"Vλ2-8","c":"TX","s":"b","x":23,"v":1.3,"e":0.05},{"g":"Vλ2-8","c":"TX","s":"b","x":24,"v":0.85,"e":0.1},{"g":"Vλ2-8","c":"TX","s":"b","x":25,"v":0.45,"e":0.05},{"g":"Vλ2-8","c":"TX","s":"b","x":26,"v":0.2,"e":0.05},
{"g":"Vλ2-8","c":"TX","s":"o","x":5,"v":0.15,"e":0.05},{"g":"Vλ2-8","c":"TX","s":"o","x":6,"v":0.35,"e":0.1},{"g":"Vλ2-8","c":"TX","s":"o","x":7,"v":0.45,"e":0.25},{"g":"Vλ2-8","c":"TX","s":"o","x":8,"v":1.2,"e":0.15},{"g":"Vλ2-8","c":"TX","s":"o","x":9,"v":3.8,"e":1.8},{"g":"Vλ2-8","c":"TX","s":"o","x":10,"v":7.1,"e":0.4},{"g":"Vλ2-8","c":"TX","s":"o","x":11,"v":10.5,"e":0.1},{"g":"Vλ2-8","c":"TX","s":"o","x":12,"v":9.45,"e":0.15},{"g":"Vλ2-8","c":"TX","s":"o","x":13,"v":10.3,"e":1.4},{"g":"Vλ2-8","c":"TX","s":"o","x":14,"v":11.3,"e":1.6},{"g":"Vλ2-8","c":"TX","s":"o","x":15,"v":12.15,"e":0.8},{"g":"Vλ2-8","c":"TX","s":"o","x":16,"v":8.35,"e":0.9},{"g":"Vλ2-8","c":"TX","s":"o","x":17,"v":6.95,"e":1.4},{"g":"Vλ2-8","c":"TX","s":"o","x":18,"v":5.2,"e":0.5},{"g":"Vλ2-8","c":"TX","s":"o","x":19,"v":3.5,"e":0.4},{"g":"Vλ2-8","c":"TX","s":"o","x":20,"v":3.2,"e":0.1},{"g":"Vλ2-8","c":"TX","s":"o","x":21,"v":2.2,"e":0.1},{"g":"Vλ2-8","c":"TX","s":"o","x":22,"v":1.15,"e":0.4},{"g":"Vλ2-8","c":"TX","s":"o","x":23,"v":1.1,"e":0.05},{"g":"Vλ2-8","c":"TX","s":"o","x":24,"v":0.8,"e":0.05},{"g":"Vλ2-8","c":"TX","s":"o","x":25,"v":0.75,"e":0.4},{"g":"Vλ2-8","c":"TX","s":"o","x":26,"v":0.2,"e":0.05},
{"g":"Vλ6-57","c":"TX","s":"b","x":5,"v":0.15,"e":0.05},{"g":"Vλ6-57","c":"TX","s":"b","x":6,"v":0.45,"e":0.1},{"g":"Vλ6-57","c":"TX","s":"b","x":7,"v":0.45,"e":0.05},{"g":"Vλ6-57","c":"TX","s":"b","x":8,"v":1.0,"e":0.05},{"g":"Vλ6-57","c":"TX","s":"b","x":9,"v":2.2,"e":0.15},{"g":"Vλ6-57","c":"TX","s":"b","x":10,"v":3.6,"e":0.15},{"g":"Vλ6-57","c":"TX","s":"b","x":11,"v":5.95,"e":0.1},{"g":"Vλ6-57","c":"TX","s":"b","x":12,"v":8.1,"e":0.25},{"g":"Vλ6-57","c":"TX","s":"b","x":13,"v":10.4,"e":0.1},{"g":"Vλ6-57","c":"TX","s":"b","x":14,"v":11.9,"e":0.2},{"g":"Vλ6-57","c":"TX","s":"b","x":15,"v":11.3,"e":0.4},{"g":"Vλ6-57","c":"TX","s":"b","x":16,"v":10.2,"e":0.1},{"g":"Vλ6-57","c":"TX","s":"b","x":17,"v":8.5,"e":0.2},{"g":"Vλ6-57","c":"TX","s":"b","x":18,"v":7.2,"e":0.25},{"g":"Vλ6-57","c":"TX","s":"b","x":19,"v":5.6,"e":0.25},{"g":"Vλ6-57","c":"TX","s":"b","x":20,"v":4.5,"e":0.2},{"g":"Vλ6-57","c":"TX","s":"b","x":21,"v":3.05,"e":0.1},{"g":"Vλ6-57","c":"TX","s":"b","x":22,"v":2.05,"e":0.05},{"g":"Vλ6-57","c":"TX","s":"b","x":23,"v":1.3,"e":0.05},{"g":"Vλ6-57","c":"TX","s":"b","x":24,"v":0.85,"e":0.1},{"g":"Vλ6-57","c":"TX","s":"b","x":25,"v":0.45,"e":0.05},{"g":"Vλ6-57","c":"TX","s":"b","x":26,"v":0.2,"e":0.05},
{"g":"Vλ6-57","c":"TX","s":"o","x":5,"v":0.15,"e":0.05},{"g":"Vλ6-57","c":"TX","s":"o","x":6,"v":1.7,"e":1.2},{"g":"Vλ6-57","c":"TX","s":"o","x":7,"v":0.4,"e":0.05},{"g":"Vλ6-57","c":"TX","s":"o","x":8,"v":2.1,"e":0.4},{"g":"Vλ6-57","c":"TX","s":"o","x":9,"v":2.65,"e":0.1},{"g":"Vλ6-57","c":"TX","s":"o","x":10,"v":5.6,"e":0.2},{"g":"Vλ6-57","c":"TX","s":"o","x":11,"v":7.4,"e":1.3},{"g":"Vλ6-57","c":"TX","s":"o","x":12,"v":11.7,"e":1.7},{"g":"Vλ6-57","c":"TX","s":"o","x":13,"v":10.7,"e":0.9},{"g":"Vλ6-57","c":"TX","s":"o","x":14,"v":11.85,"e":0.5},{"g":"Vλ6-57","c":"TX","s":"o","x":15,"v":9.45,"e":0.3},{"g":"Vλ6-57","c":"TX","s":"o","x":16,"v":8.3,"e":2.0},{"g":"Vλ6-57","c":"TX","s":"o","x":17,"v":7.8,"e":0.5},{"g":"Vλ6-57","c":"TX","s":"o","x":18,"v":6.1,"e":0.9},{"g":"Vλ6-57","c":"TX","s":"o","x":19,"v":3.7,"e":0.4},{"g":"Vλ6-57","c":"TX","s":"o","x":20,"v":5.15,"e":0.6},{"g":"Vλ6-57","c":"TX","s":"o","x":21,"v":2.1,"e":0.4},{"g":"Vλ6-57","c":"TX","s":"o","x":22,"v":1.5,"e":0.4},{"g":"Vλ6-57","c":"TX","s":"o","x":23,"v":1.2,"e":0.1},{"g":"Vλ6-57","c":"TX","s":"o","x":24,"v":0.05,"e":0.05},{"g":"Vλ6-57","c":"TX","s":"o","x":25,"v":0.5,"e":0.15},{"g":"Vλ6-57","c":"TX","s":"o","x":26,"v":0.3,"e":0.1},
{"g":"Vκ1-17","c":"TX","s":"b","x":5,"v":0.15,"e":0.05},{"g":"Vκ1-17","c":"TX","s":"b","x":6,"v":0.45,"e":0.1},{"g":"Vκ1-17","c":"TX","s":"b","x":7,"v":0.45,"e":0.05},{"g":"Vκ1-17","c":"TX","s":"b","x":8,"v":1.0,"e":0.05},{"g":"Vκ1-17","c":"TX","s":"b","x":9,"v":2.2,"e":0.15},{"g":"Vκ1-17","c":"TX","s":"b","x":10,"v":3.6,"e":0.15},{"g":"Vκ1-17","c":"TX","s":"b","x":11,"v":5.95,"e":0.1},{"g":"Vκ1-17","c":"TX","s":"b","x":12,"v":8.1,"e":0.25},{"g":"Vκ1-17","c":"TX","s":"b","x":13,"v":10.4,"e":0.1},{"g":"Vκ1-17","c":"TX","s":"b","x":14,"v":11.9,"e":0.2},{"g":"Vκ1-17","c":"TX","s":"b","x":15,"v":11.3,"e":0.4},{"g":"Vκ1-17","c":"TX","s":"b","x":16,"v":10.2,"e":0.1},{"g":"Vκ1-17","c":"TX","s":"b","x":17,"v":8.5,"e":0.2},{"g":"Vκ1-17","c":"TX","s":"b","x":18,"v":7.2,"e":0.25},{"g":"Vκ1-17","c":"TX","s":"b","x":19,"v":5.6,"e":0.25},{"g":"Vκ1-17","c":"TX","s":"b","x":20,"v":4.5,"e":0.2},{"g":"Vκ1-17","c":"TX","s":"b","x":21,"v":3.05,"e":0.1},{"g":"Vκ1-17","c":"TX","s":"b","x":22,"v":2.05,"e":0.05},{"g":"Vκ1-17","c":"TX","s":"b","x":23,"v":1.3,"e":0.05},{"g":"Vκ1-17","c":"TX","s":"b","x":24,"v":0.85,"e":0.1},{"g":"Vκ1-17","c":"TX","s":"b","x":25,"v":0.45,"e":0.05},{"g":"Vκ1-17","c":"TX","s":"b","x":26,"v":0.2,"e":0.05},
{"g":"Vκ1-17","c":"TX","s":"o","x":6,"v":1.7,"e":0.3},{"g":"Vκ1-17","c":"TX","s":"o","x":7,"v":1.65,"e":0.3},{"g":"Vκ1-17","c":"TX","s":"o","x":8,"v":3.1,"e":0.6},{"g":"Vκ1-17","c":"TX","s":"o","x":9,"v":3.7,"e":0.5},{"g":"Vκ1-17","c":"TX","s":"o","x":10,"v":3.8,"e":2.5},{"g":"Vκ1-17","c":"TX","s":"o","x":11,"v":7.55,"e":1.3},{"g":"Vκ1-17","c":"TX","s":"o","x":12,"v":9.55,"e":0.5},{"g":"Vκ1-17","c":"TX","s":"o","x":13,"v":7.7,"e":0.8},{"g":"Vκ1-17","c":"TX","s":"o","x":14,"v":9.45,"e":0.6},{"g":"Vκ1-17","c":"TX","s":"o","x":15,"v":9.9,"e":0.2},{"g":"Vκ1-17","c":"TX","s":"o","x":16,"v":8.0,"e":1.4},{"g":"Vκ1-17","c":"TX","s":"o","x":17,"v":7.3,"e":0.3},{"g":"Vκ1-17","c":"TX","s":"o","x":18,"v":8.1,"e":2.0},{"g":"Vκ1-17","c":"TX","s":"o","x":19,"v":6.6,"e":0.9},{"g":"Vκ1-17","c":"TX","s":"o","x":20,"v":3.35,"e":0.25},{"g":"Vκ1-17","c":"TX","s":"o","x":21,"v":4.0,"e":0.1},{"g":"Vκ1-17","c":"TX","s":"o","x":22,"v":0.95,"e":0.3},{"g":"Vκ1-17","c":"TX","s":"o","x":23,"v":0.95,"e":0.3},{"g":"Vκ1-17","c":"TX","s":"o","x":24,"v":2.4,"e":0.7},{"g":"Vκ1-17","c":"TX","s":"o","x":25,"v":0.3,"e":0.3},
{"g":"Vλ8-61","c":"TX","s":"b","x":5,"v":0.15,"e":0.05},{"g":"Vλ8-61","c":"TX","s":"b","x":6,"v":0.45,"e":0.1},{"g":"Vλ8-61","c":"TX","s":"b","x":7,"v":0.45,"e":0.05},{"g":"Vλ8-61","c":"TX","s":"b","x":8,"v":1.0,"e":0.05},{"g":"Vλ8-61","c":"TX","s":"b","x":9,"v":2.2,"e":0.15},{"g":"Vλ8-61","c":"TX","s":"b","x":10,"v":3.6,"e":0.15},{"g":"Vλ8-61","c":"TX","s":"b","x":11,"v":5.95,"e":0.1},{"g":"Vλ8-61","c":"TX","s":"b","x":12,"v":8.1,"e":0.25},{"g":"Vλ8-61","c":"TX","s":"b","x":13,"v":10.4,"e":0.1},{"g":"Vλ8-61","c":"TX","s":"b","x":14,"v":11.9,"e":0.2},{"g":"Vλ8-61","c":"TX","s":"b","x":15,"v":11.3,"e":0.4},{"g":"Vλ8-61","c":"TX","s":"b","x":16,"v":10.2,"e":0.1},{"g":"Vλ8-61","c":"TX","s":"b","x":17,"v":8.5,"e":0.2},{"g":"Vλ8-61","c":"TX","s":"b","x":18,"v":7.2,"e":0.25},{"g":"Vλ8-61","c":"TX","s":"b","x":19,"v":5.6,"e":0.25},{"g":"Vλ8-61","c":"TX","s":"b","x":20,"v":4.5,"e":0.2},{"g":"Vλ8-61","c":"TX","s":"b","x":21,"v":3.05,"e":0.1},{"g":"Vλ8-61","c":"TX","s":"b","x":22,"v":2.05,"e":0.05},{"g":"Vλ8-61","c":"TX","s":"b","x":23,"v":1.3,"e":0.05},{"g":"Vλ8-61","c":"TX","s":"b","x":24,"v":0.85,"e":0.1},{"g":"Vλ8-61","c":"TX","s":"b","x":25,"v":0.45,"e":0.05},{"g":"Vλ8-61","c":"TX","s":"b","x":26,"v":0.2,"e":0.05},
{"g":"Vλ8-61","c":"TX","s":"o","x":8,"v":2.85},{"g":"Vλ8-61","c":"TX","s":"o","x":9,"v":1.4},{"g":"Vλ8-61","c":"TX","s":"o","x":10,"v":6.6},{"g":"Vλ8-61","c":"TX","s":"o","x":11,"v":11.35},{"g":"Vλ8-61","c":"TX","s":"o","x":12,"v":11.35},{"g":"Vλ8-61","c":"TX","s":"o","x":13,"v":11.35},{"g":"Vλ8-61","c":"TX","s":"o","x":14,"v":9.9},{"g":"Vλ8-61","c":"TX","s":"o","x":15,"v":11.75},{"g":"Vλ8-61","c":"TX","s":"o","x":16,"v":8.0},{"g":"Vλ8-61","c":"TX","s":"o","x":17,"v":6.1},{"g":"Vλ8-61","c":"TX","s":"o","x":18,"v":6.6},{"g":"Vλ8-61","c":"TX","s":"o","x":19,"v":3.8},{"g":"Vλ8-61","c":"TX","s":"o","x":20,"v":4.7},{"g":"Vλ8-61","c":"TX","s":"o","x":21,"v":0.95},{"g":"Vλ8-61","c":"TX","s":"o","x":22,"v":0.95},{"g":"Vλ8-61","c":"TX","s":"o","x":23,"v":0.95},{"g":"Vλ8-61","c":"TX","s":"o","x":24,"v":0.5},{"g":"Vλ8-61","c":"TX","s":"o","x":25,"v":0.5},
{"g":"Vκ1-16","c":"CA","s":"b","x":5,"v":0.15,"e":0.05},{"g":"Vκ1-16","c":"CA","s":"b","x":6,"v":0.4,"e":0.1},{"g":"Vκ1-16","c":"CA","s":"b","x":7,"v":0.5,"e":0.1},{"g":"Vκ1-16","c":"CA","s":"b","x":8,"v":1.1,"e":0.15},{"g":"Vκ1-16","c":"CA","s":"b","x":9,"v":2.3,"e":0.2},{"g":"Vκ1-16","c":"CA","s":"b","x":10,"v":3.7,"e":0.2},{"g":"Vκ1-16","c":"CA","s":"b","x":11,"v":6.0,"e":0.3},{"g":"Vκ1-16","c":"CA","s":"b","x":12,"v":7.7,"e":0.2},{"g":"Vκ1-16","c":"CA","s":"b","x":13,"v":9.7,"e":0.2},{"g":"Vκ1-16","c":"CA","s":"b","x":14,"v":10.9,"e":0.25},{"g":"Vκ1-16","c":"CA","s":"b","x":15,"v":11.0,"e":0.1},{"g":"Vκ1-16","c":"CA","s":"b","x":16,"v":9.75,"e":0.2},{"g":"Vκ1-16","c":"CA","s":"b","x":17,"v":8.1,"e":0.15},{"g":"Vκ1-16","c":"CA","s":"b","x":18,"v":7.2,"e":0.1},{"g":"Vκ1-16","c":"CA","s":"b","x":19,"v":6.05,"e":0.2},{"g":"Vκ1-16","c":"CA","s":"b","x":20,"v":4.7,"e":0.25},{"g":"Vκ1-16","c":"CA","s":"b","x":21,"v":3.55,"e":0.25},{"g":"Vκ1-16","c":"CA","s":"b","x":22,"v":2.3,"e":0.15},{"g":"Vκ1-16","c":"CA","s":"b","x":23,"v":1.65,"e":0.15},{"g":"Vκ1-16","c":"CA","s":"b","x":24,"v":1.0,"e":0.15},{"g":"Vκ1-16","c":"CA","s":"b","x":25,"v":0.65,"e":0.05},{"g":"Vκ1-16","c":"CA","s":"b","x":26,"v":0.35,"e":0.05},
{"g":"Vκ1-16","c":"CA","s":"o","x":5,"v":0.85,"e":0.6},{"g":"Vκ1-16","c":"CA","s":"o","x":6,"v":0.75,"e":0.2},{"g":"Vκ1-16","c":"CA","s":"o","x":7,"v":0.75,"e":0.2},{"g":"Vκ1-16","c":"CA","s":"o","x":8,"v":5.65,"e":1.7},{"g":"Vκ1-16","c":"CA","s":"o","x":9,"v":5.6,"e":0.4},{"g":"Vκ1-16","c":"CA","s":"o","x":10,"v":4.6,"e":0.6},{"g":"Vκ1-16","c":"CA","s":"o","x":11,"v":6.6,"e":1.6},{"g":"Vκ1-16","c":"CA","s":"o","x":12,"v":7.6,"e":0.9},{"g":"Vκ1-16","c":"CA","s":"o","x":13,"v":7.95,"e":1.1},{"g":"Vκ1-16","c":"CA","s":"o","x":14,"v":9.4,"e":1.0},{"g":"Vκ1-16","c":"CA","s":"o","x":15,"v":11.95,"e":0.4},{"g":"Vκ1-16","c":"CA","s":"o","x":16,"v":8.65,"e":1.3},{"g":"Vκ1-16","c":"CA","s":"o","x":17,"v":8.2,"e":1.1},{"g":"Vκ1-16","c":"CA","s":"o","x":18,"v":4.5,"e":1.1},{"g":"Vκ1-16","c":"CA","s":"o","x":19,"v":5.65,"e":1.7},{"g":"Vκ1-16","c":"CA","s":"o","x":20,"v":3.35,"e":1.0},{"g":"Vκ1-16","c":"CA","s":"o","x":21,"v":2.9,"e":1.1},{"g":"Vκ1-16","c":"CA","s":"o","x":22,"v":2.45,"e":0.5},{"g":"Vκ1-16","c":"CA","s":"o","x":23,"v":0.6,"e":0.2},{"g":"Vκ1-16","c":"CA","s":"o","x":24,"v":0.45,"e":0.3},{"g":"Vκ1-16","c":"CA","s":"o","x":25,"v":0.3,"e":0.2},
{"g":"Vλ2-8","c":"CA","s":"b","x":5,"v":0.15,"e":0.05},{"g":"Vλ2-8","c":"CA","s":"b","x":6,"v":0.4,"e":0.1},{"g":"Vλ2-8","c":"CA","s":"b","x":7,"v":0.5,"e":0.1},{"g":"Vλ2-8","c":"CA","s":"b","x":8,"v":1.1,"e":0.15},{"g":"Vλ2-8","c":"CA","s":"b","x":9,"v":2.3,"e":0.2},{"g":"Vλ2-8","c":"CA","s":"b","x":10,"v":3.7,"e":0.2},{"g":"Vλ2-8","c":"CA","s":"b","x":11,"v":6.0,"e":0.3},{"g":"Vλ2-8","c":"CA","s":"b","x":12,"v":7.7,"e":0.2},{"g":"Vλ2-8","c":"CA","s":"b","x":13,"v":9.7,"e":0.2},{"g":"Vλ2-8","c":"CA","s":"b","x":14,"v":10.9,"e":0.25},{"g":"Vλ2-8","c":"CA","s":"b","x":15,"v":11.0,"e":0.1},{"g":"Vλ2-8","c":"CA","s":"b","x":16,"v":9.75,"e":0.2},{"g":"Vλ2-8","c":"CA","s":"b","x":17,"v":8.1,"e":0.15},{"g":"Vλ2-8","c":"CA","s":"b","x":18,"v":7.2,"e":0.1},{"g":"Vλ2-8","c":"CA","s":"b","x":19,"v":6.05,"e":0.2},{"g":"Vλ2-8","c":"CA","s":"b","x":20,"v":4.7,"e":0.25},{"g":"Vλ2-8","c":"CA","s":"b","x":21,"v":3.55,"e":0.25},{"g":"Vλ2-8","c":"CA","s":"b","x":22,"v":2.3,"e":0.15},{"g":"Vλ2-8","c":"CA","s":"b","x":23,"v":1.65,"e":0.15},{"g":"Vλ2-8","c":"CA","s":"b","x":24,"v":1.0,"e":0.15},{"g":"Vλ2-8","c":"CA","s":"b","x":25,"v":0.65,"e":0.05},{"g":"Vλ2-8","c":"CA","s":"b","x":26,"v":0.35,"e":0.05},
{"g":"Vλ2-8","c":"CA","s":"o","x":6,"v":0.3,"e":0.15},{"g":"Vλ2-8","c":"CA","s":"o","x":7,"v":0.45,"e":0.4},{"g":"Vλ2-8","c":"CA","s":"o","x":8,"v":0.95,"e":0.15},{"g":"Vλ2-8","c":"CA","s":"o","x":9,"v":2.0,"e":0.5},{"g":"Vλ2-8","c":"CA","s":"o","x":10,"v":10.0,"e":2.8},{"g":"Vλ2-8","c":"CA","s":"o","x":11,"v":13.1,"e":1.4},{"g":"Vλ2-8","c":"CA","s":"o","x":12,"v":9.1,"e":0.1},{"g":"Vλ2-8","c":"CA","s":"o","x":13,"v":10.55,"e":0.9},{"g":"Vλ2-8","c":"CA","s":"o","x":14,"v":8.8,"e":0.4},{"g":"Vλ2-8","c":"CA","s":"o","x":15,"v":9.7,"e":0.9},{"g":"Vλ2-8","c":"CA","s":"o","x":16,"v":7.65,"e":0.3},{"g":"Vλ2-8","c":"CA","s":"o","x":17,"v":7.3,"e":1.1},{"g":"Vλ2-8","c":"CA","s":"o","x":18,"v":3.8,"e":0.9},{"g":"Vλ2-8","c":"CA","s":"o","x":19,"v":4.05,"e":0.5},{"g":"Vλ2-8","c":"CA","s":"o","x":20,"v":3.6,"e":0.3},{"g":"Vλ2-8","c":"CA","s":"o","x":21,"v":2.2,"e":0.5},{"g":"Vλ2-8","c":"CA","s":"o","x":22,"v":1.9,"e":0.3},{"g":"Vλ2-8","c":"CA","s":"o","x":23,"v":2.05,"e":0.5},{"g":"Vλ2-8","c":"CA","s":"o","x":24,"v":0.75,"e":0.3},{"g":"Vλ2-8","c":"CA","s":"o","x":25,"v":0.65,"e":0.45},{"g":"Vλ2-8","c":"CA","s":"o","x":26,"v":0.3,"e":0.1},
{"g":"Vλ6-57","c":"CA","s":"b","x":5,"v":0.15,"e":0.05},{"g":"Vλ6-57","c":"CA","s":"b","x":6,"v":0.4,"e":0.1},{"g":"Vλ6-57","c":"CA","s":"b","x":7,"v":0.5,"e":0.1},{"g":"Vλ6-57","c":"CA","s":"b","x":8,"v":1.1,"e":0.15},{"g":"Vλ6-57","c":"CA","s":"b","x":9,"v":2.3,"e":0.2},{"g":"Vλ6-57","c":"CA","s":"b","x":10,"v":3.7,"e":0.2},{"g":"Vλ6-57","c":"CA","s":"b","x":11,"v":6.0,"e":0.3},{"g":"Vλ6-57","c":"CA","s":"b","x":12,"v":7.7,"e":0.2},{"g":"Vλ6-57","c":"CA","s":"b","x":13,"v":9.7,"e":0.2},{"g":"Vλ6-57","c":"CA","s":"b","x":14,"v":10.9,"e":0.25},{"g":"Vλ6-57","c":"CA","s":"b","x":15,"v":11.0,"e":0.1},{"g":"Vλ6-57","c":"CA","s":"b","x":16,"v":9.75,"e":0.2},{"g":"Vλ6-57","c":"CA","s":"b","x":17,"v":8.1,"e":0.15},{"g":"Vλ6-57","c":"CA","s":"b","x":18,"v":7.2,"e":0.1},{"g":"Vλ6-57","c":"CA","s":"b","x":19,"v":6.05,"e":0.2},{"g":"Vλ6-57","c":"CA","s":"b","x":20,"v":4.7,"e":0.25},{"g":"Vλ6-57","c":"CA","s":"b","x":21,"v":3.55,"e":0.25},{"g":"Vλ6-57","c":"CA","s":"b","x":22,"v":2.3,"e":0.15},{"g":"Vλ6-57","c":"CA","s":"b","x":23,"v":1.65,"e":0.15},{"g":"Vλ6-57","c":"CA","s":"b","x":24,"v":1.0,"e":0.15},{"g":"Vλ6-57","c":"CA","s":"b","x":25,"v":0.65,"e":0.05},{"g":"Vλ6-57","c":"CA","s":"b","x":26,"v":0.35,"e":0.05},
{"g":"Vλ6-57","c":"CA","s":"o","x":6,"v":0.6,"e":0.3},{"g":"Vλ6-57","c":"CA","s":"o","x":7,"v":0.85,"e":0.4},{"g":"Vλ6-57","c":"CA","s":"o","x":8,"v":2.9,"e":0.6},{"g":"Vλ6-57","c":"CA","s":"o","x":9,"v":3.5,"e":0.8},{"g":"Vλ6-57","c":"CA","s":"o","x":10,"v":6.0,"e":0.7},{"g":"Vλ6-57","c":"CA","s":"o","x":11,"v":9.5,"e":1.4},{"g":"Vλ6-57","c":"CA","s":"o","x":12,"v":12.05,"e":1.7},{"g":"Vλ6-57","c":"CA","s":"o","x":13,"v":11.35,"e":1.0},{"g":"Vλ6-57","c":"CA","s":"o","x":14,"v":10.25,"e":0.4},{"g":"Vλ6-57","c":"CA","s":"o","x":15,"v":8.5,"e":0.6},{"g":"Vλ6-57","c":"CA","s":"o","x":16,"v":9.6,"e":0.8},{"g":"Vλ6-57","c":"CA","s":"o","x":17,"v":4.55,"e":0.4},{"g":"Vλ6-57","c":"CA","s":"o","x":18,"v":5.5,"e":1.1},{"g":"Vλ6-57","c":"CA","s":"o","x":19,"v":4.2,"e":0.7},{"g":"Vλ6-57","c":"CA","s":"o","x":20,"v":2.75,"e":1.1},{"g":"Vλ6-57","c":"CA","s":"o","x":21,"v":2.35,"e":0.5},{"g":"Vλ6-57","c":"CA","s":"o","x":22,"v":1.7,"e":0.3},{"g":"Vλ6-57","c":"CA","s":"o","x":23,"v":0.55,"e":0.3},{"g":"Vλ6-57","c":"CA","s":"o","x":24,"v":0.85,"e":0.5},{"g":"Vλ6-57","c":"CA","s":"o","x":25,"v":0.45,"e":0.3},{"g":"Vλ6-57","c":"CA","s":"o","x":26,"v":0.35,"e":0.3},
{"g":"Vκ1-17","c":"CA","s":"b","x":5,"v":0.15,"e":0.05},{"g":"Vκ1-17","c":"CA","s":"b","x":6,"v":0.4,"e":0.1},{"g":"Vκ1-17","c":"CA","s":"b","x":7,"v":0.5,"e":0.1},{"g":"Vκ1-17","c":"CA","s":"b","x":8,"v":1.1,"e":0.15},{"g":"Vκ1-17","c":"CA","s":"b","x":9,"v":2.3,"e":0.2},{"g":"Vκ1-17","c":"CA","s":"b","x":10,"v":3.7,"e":0.2},{"g":"Vκ1-17","c":"CA","s":"b","x":11,"v":6.0,"e":0.3},{"g":"Vκ1-17","c":"CA","s":"b","x":12,"v":7.7,"e":0.2},{"g":"Vκ1-17","c":"CA","s":"b","x":13,"v":9.7,"e":0.2},{"g":"Vκ1-17","c":"CA","s":"b","x":14,"v":10.9,"e":0.25},{"g":"Vκ1-17","c":"CA","s":"b","x":15,"v":11.0,"e":0.1},{"g":"Vκ1-17","c":"CA","s":"b","x":16,"v":9.75,"e":0.2},{"g":"Vκ1-17","c":"CA","s":"b","x":17,"v":8.1,"e":0.15},{"g":"Vκ1-17","c":"CA","s":"b","x":18,"v":7.2,"e":0.1},{"g":"Vκ1-17","c":"CA","s":"b","x":19,"v":6.05,"e":0.2},{"g":"Vκ1-17","c":"CA","s":"b","x":20,"v":4.7,"e":0.25},{"g":"Vκ1-17","c":"CA","s":"b","x":21,"v":3.55,"e":0.25},{"g":"Vκ1-17","c":"CA","s":"b","x":22,"v":2.3,"e":0.15},{"g":"Vκ1-17","c":"CA","s":"b","x":23,"v":1.65,"e":0.15},{"g":"Vκ1-17","c":"CA","s":"b","x":24,"v":1.0,"e":0.15},{"g":"Vκ1-17","c":"CA","s":"b","x":25,"v":0.65,"e":0.05},{"g":"Vκ1-17","c":"CA","s":"b","x":26,"v":0.35,"e":0.05},
{"g":"Vκ1-17","c":"CA","s":"o","x":5,"v":0.2,"e":0.15},{"g":"Vκ1-17","c":"CA","s":"o","x":6,"v":0.85,"e":0.4},{"g":"Vκ1-17","c":"CA","s":"o","x":7,"v":1.95,"e":0.5},{"g":"Vκ1-17","c":"CA","s":"o","x":8,"v":4.3,"e":1.5},{"g":"Vκ1-17","c":"CA","s":"o","x":9,"v":3.9,"e":0.4},{"g":"Vκ1-17","c":"CA","s":"o","x":10,"v":4.0,"e":0.5},{"g":"Vκ1-17","c":"CA","s":"o","x":11,"v":8.1,"e":0.4},{"g":"Vκ1-17","c":"CA","s":"o","x":12,"v":7.45,"e":0.3},{"g":"Vκ1-17","c":"CA","s":"o","x":13,"v":8.05,"e":0.9},{"g":"Vκ1-17","c":"CA","s":"o","x":14,"v":8.85,"e":0.7},{"g":"Vκ1-17","c":"CA","s":"o","x":15,"v":10.75,"e":0.8},{"g":"Vκ1-17","c":"CA","s":"o","x":16,"v":6.0,"e":0.7},{"g":"Vκ1-17","c":"CA","s":"o","x":17,"v":7.2,"e":0.9},{"g":"Vκ1-17","c":"CA","s":"o","x":18,"v":6.9,"e":0.9},{"g":"Vκ1-17","c":"CA","s":"o","x":19,"v":5.45,"e":0.7},{"g":"Vκ1-17","c":"CA","s":"o","x":20,"v":4.0,"e":1.0},{"g":"Vκ1-17","c":"CA","s":"o","x":21,"v":4.3,"e":1.4},{"g":"Vκ1-17","c":"CA","s":"o","x":22,"v":1.6,"e":0.4},{"g":"Vκ1-17","c":"CA","s":"o","x":23,"v":2.15,"e":0.9},{"g":"Vκ1-17","c":"CA","s":"o","x":24,"v":0.55,"e":0.2},{"g":"Vκ1-17","c":"CA","s":"o","x":25,"v":0.2,"e":0.1},
{"g":"Vλ8-61","c":"CA","s":"b","x":5,"v":0.15,"e":0.05},{"g":"Vλ8-61","c":"CA","s":"b","x":6,"v":0.4,"e":0.1},{"g":"Vλ8-61","c":"CA","s":"b","x":7,"v":0.5,"e":0.1},{"g":"Vλ8-61","c":"CA","s":"b","x":8,"v":1.1,"e":0.15},{"g":"Vλ8-61","c":"CA","s":"b","x":9,"v":2.3,"e":0.2},{"g":"Vλ8-61","c":"CA","s":"b","x":10,"v":3.7,"e":0.2},{"g":"Vλ8-61","c":"CA","s":"b","x":11,"v":6.0,"e":0.3},{"g":"Vλ8-61","c":"CA","s":"b","x":12,"v":7.7,"e":0.2},{"g":"Vλ8-61","c":"CA","s":"b","x":13,"v":9.7,"e":0.2},{"g":"Vλ8-61","c":"CA","s":"b","x":14,"v":10.9,"e":0.25},{"g":"Vλ8-61","c":"CA","s":"b","x":15,"v":11.0,"e":0.1},{"g":"Vλ8-61","c":"CA","s":"b","x":16,"v":9.75,"e":0.2},{"g":"Vλ8-61","c":"CA","s":"b","x":17,"v":8.1,"e":0.15},{"g":"Vλ8-61","c":"CA","s":"b","x":18,"v":7.2,"e":0.1},{"g":"Vλ8-61","c":"CA","s":"b","x":19,"v":6.05,"e":0.2},{"g":"Vλ8-61","c":"CA","s":"b","x":20,"v":4.7,"e":0.25},{"g":"Vλ8-61","c":"CA","s":"b","x":21,"v":3.55,"e":0.25},{"g":"Vλ8-61","c":"CA","s":"b","x":22,"v":2.3,"e":0.15},{"g":"Vλ8-61","c":"CA","s":"b","x":23,"v":1.65,"e":0.15},{"g":"Vλ8-61","c":"CA","s":"b","x":24,"v":1.0,"e":0.15},{"g":"Vλ8-61","c":"CA","s":"b","x":25,"v":0.65,"e":0.05},{"g":"Vλ8-61","c":"CA","s":"b","x":26,"v":0.35,"e":0.05},
{"g":"Vλ8-61","c":"CA","s":"o","x":5,"v":0.3,"e":0.35},{"g":"Vλ8-61","c":"CA","s":"o","x":6,"v":0.2,"e":0.2},{"g":"Vλ8-61","c":"CA","s":"o","x":7,"v":0.7,"e":0.5},{"g":"Vλ8-61","c":"CA","s":"o","x":8,"v":0.55,"e":0.3},{"g":"Vλ8-61","c":"CA","s":"o","x":9,"v":1.8,"e":0.8},{"g":"Vλ8-61","c":"CA","s":"o","x":10,"v":9.5,"e":1.4},{"g":"Vλ8-61","c":"CA","s":"o","x":11,"v":8.15,"e":2.5},{"g":"Vλ8-61","c":"CA","s":"o","x":12,"v":11.35,"e":0.3},{"g":"Vλ8-61","c":"CA","s":"o","x":13,"v":13.8,"e":1.2},{"g":"Vλ8-61","c":"CA","s":"o","x":14,"v":12.8,"e":0.7},{"g":"Vλ8-61","c":"CA","s":"o","x":15,"v":10.35,"e":0.4},{"g":"Vλ8-61","c":"CA","s":"o","x":16,"v":6.3,"e":1.2},{"g":"Vλ8-61","c":"CA","s":"o","x":17,"v":5.95,"e":1.5},{"g":"Vλ8-61","c":"CA","s":"o","x":18,"v":4.15,"e":0.6},{"g":"Vλ8-61","c":"CA","s":"o","x":19,"v":3.5,"e":0.3},{"g":"Vλ8-61","c":"CA","s":"o","x":20,"v":2.15,"e":0.4},{"g":"Vλ8-61","c":"CA","s":"o","x":21,"v":2.9,"e":1.5},{"g":"Vλ8-61","c":"CA","s":"o","x":22,"v":2.0,"e":0.5},{"g":"Vλ8-61","c":"CA","s":"o","x":23,"v":0.45,"e":0.3},{"g":"Vλ8-61","c":"CA","s":"o","x":24,"v":0.95,"e":0.15},{"g":"Vλ8-61","c":"CA","s":"o","x":25,"v":0.6,"e":0.3}
]},
"title":{"text":"CDR H3 length","orient":"bottom","fontSize":52,"font":"Liberation Sans","fontWeight":"normal","color":"black","offset":34,"dx":767},
"vconcat":[{
 "title":{"text":"Percent of sequences","orient":"left","fontSize":52,"font":"Liberation Sans","fontWeight":"normal","color":"black","offset":-149,"dx":218},
 "spacing":32,
 "vconcat":[
  {"data":{"name":"d"},
   "transform":[{"filter":{"field":"g","oneOf":["Vκ2-30","Vκ2-24","Vκ2D-29","Vλ7-46","Vλ7-43"]}}],
   "facet":{
     "row":{"field":"c","sort":["TX","CA"],"header":{"title":null,"labelOrient":"left","labelAngle":0,"labelFontSize":52,"labelPadding":142,"labelAlign":"left","labelBaseline":"middle"}},
     "column":{"field":"g","sort":["Vκ2-30","Vκ2-24","Vκ2D-29","Vλ7-46","Vλ7-43"],"header":{"title":null,"labelFontSize":44,"labelPadding":15}}},
   "spacing":{"row":59,"column":25},
   "bounds":"flush",
   "resolve":{"axis":{"x":"independent","y":"independent"}},
   "spec":{"width":265,"height":140,
     "encoding":{
       "x":{"field":"x","type":"ordinal","scale":{"domain":[5,6,7,8,9,10,11,12,13,14,15,16,17,18,19,20,21,22,23,24,25,26],"paddingInner":0.33,"paddingOuter":0.2},
            "axis":{"title":null,"labelAngle":-90,"labelFontSize":14,"labelPadding":2,"ticks":false,"domainColor":"black","domainWidth":1.5,"labelOverlap":false,"labelColor":"black"}},
       "xOffset":{"field":"s","scale":{"domain":["b","o"],"paddingInner":0,"paddingOuter":0}},
       "y":{"field":"v","type":"quantitative","scale":{"domain":[0,20],"nice":false},
            "axis":{"title":null,"values":[0,1,2,3,4,5,6,7,8,9,10,11,12,13,14,15,16,17,18,19,20],"labelExpr":"datum.value % 5 === 0 ? datum.label : ''","labelFontSize":15,"tickSize":3,"tickColor":"black","domainColor":"black","domainWidth":1.5,"labelPadding":2,"grid":false,"labelColor":"black","labelOverlap":false}}},
     "layer":[
       {"mark":{"type":"bar"},"encoding":{"color":{"field":"s","scale":{"domain":["b","o"],"range":["#1e90ff","#ff9500"]},"legend":null}}},
       {"transform":[{"filter":"isValid(datum.e)"}],"mark":{"type":"errorbar","color":"black","thickness":1,"ticks":{"size":4,"thickness":1,"color":"black"}},"encoding":{"yError":{"field":"e"}}}
     ]}},
  {"data":{"values":[{}]},"width":1427,"height":16,
   "mark":{"type":"rule","strokeWidth":5,"color":"black"},
   "encoding":{"y":{"datum":0,"type":"quantitative","scale":{"domain":[0,1]},"axis":null}}},
  {"data":{"name":"d"},
   "transform":[{"filter":{"field":"g","oneOf":["Vκ1-16","Vλ2-8","Vλ6-57","Vκ1-17","Vλ8-61"]}}],
   "facet":{
     "row":{"field":"c","sort":["TX","CA"],"header":{"title":null,"labelOrient":"left","labelAngle":0,"labelFontSize":52,"labelPadding":142,"labelAlign":"left","labelBaseline":"middle"}},
     "column":{"field":"g","sort":["Vκ1-16","Vλ2-8","Vλ6-57","Vκ1-17","Vλ8-61"],"header":{"title":null,"labelFontSize":44,"labelPadding":22}}},
   "spacing":{"row":70,"column":25},
   "bounds":"flush",
   "resolve":{"axis":{"x":"independent","y":"independent"}},
   "spec":{"width":265,"height":140,
     "encoding":{
       "x":{"field":"x","type":"ordinal","scale":{"domain":[5,6,7,8,9,10,11,12,13,14,15,16,17,18,19,20,21,22,23,24,25,26],"paddingInner":0.33,"paddingOuter":0.2},
            "axis":{"title":null,"labelAngle":-90,"labelFontSize":14,"labelPadding":2,"ticks":false,"domainColor":"black","domainWidth":1.5,"labelOverlap":false,"labelColor":"black"}},
       "xOffset":{"field":"s","scale":{"domain":["b","o"],"paddingInner":0,"paddingOuter":0}},
       "y":{"field":"v","type":"quantitative","scale":{"domain":[0,20],"nice":false},
            "axis":{"title":null,"values":[0,1,2,3,4,5,6,7,8,9,10,11,12,13,14,15,16,17,18,19,20],"labelExpr":"datum.value % 5 === 0 ? datum.label : ''","labelFontSize":15,"tickSize":3,"tickColor":"black","domainColor":"black","domainWidth":1.5,"labelPadding":2,"grid":false,"labelColor":"black","labelOverlap":false}}},
     "layer":[
       {"mark":{"type":"bar"},"encoding":{"color":{"field":"s","scale":{"domain":["b","o"],"range":["#1e90ff","#ff9500"]},"legend":null}}},
       {"transform":[{"filter":"isValid(datum.e)"}],"mark":{"type":"errorbar","color":"black","thickness":1,"ticks":{"size":4,"thickness":1,"color":"black"}},"encoding":{"yError":{"field":"e"}}}
     ]}}
 ]}]
}
